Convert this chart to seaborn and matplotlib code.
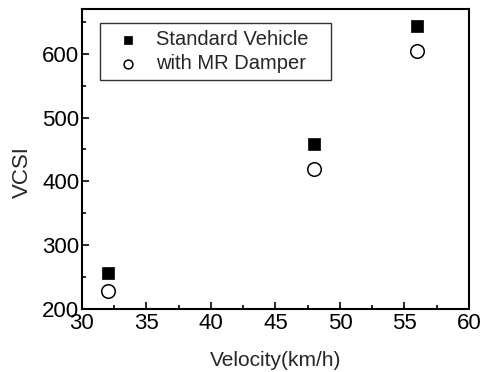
import matplotlib
matplotlib.use("Agg")
import matplotlib.pyplot as plt
import seaborn as sns
import pandas as pd
from matplotlib.ticker import MultipleLocator

velocity = [32, 48, 56]
standard_vcsi = [257, 459, 644]
mr_damper_vcsi = [229, 420, 604]
series_names = ["Standard Vehicle", "with MR Damper"]

sns.set_style("ticks")
plt.rcParams['font.family'] = ['Liberation Sans', 'DejaVu Sans']

df_std = pd.DataFrame({"Velocity": velocity, "VCSI": standard_vcsi})
df_mr = pd.DataFrame({"Velocity": velocity, "VCSI": mr_damper_vcsi})

fig = plt.figure(figsize=(4.88, 3.72), dpi=100)
ax = fig.add_axes([0.168, 0.169, 0.793, 0.807])

sns.scatterplot(data=df_std, x="Velocity", y="VCSI", marker="s", s=70,
                color="black", edgecolor="black", linewidth=0.5,
                label=series_names[0], ax=ax)
sns.scatterplot(data=df_mr, x="Velocity", y="VCSI", marker="o", s=95,
                facecolor="white", edgecolor="black", linewidth=1.1,
                label=series_names[1], ax=ax)

ax.set_xlim(30, 60)
ax.set_ylim(200, 670)
ax.xaxis.set_major_locator(MultipleLocator(5))
ax.xaxis.set_minor_locator(MultipleLocator(2.5))
ax.yaxis.set_major_locator(MultipleLocator(100))
ax.yaxis.set_minor_locator(MultipleLocator(50))
ax.tick_params(which="both", direction="in", colors="black", labelsize=16, width=1.2)
ax.tick_params(which="major", length=5)
ax.tick_params(which="minor", length=3)
ax.tick_params(axis="x", pad=3)
ax.tick_params(axis="y", pad=2)
for sp in ax.spines.values():
    sp.set_linewidth(1.5)
    sp.set_color("black")
    sp.set_visible(True)

ax.set_xlabel("Velocity(km/h)", fontsize=15, labelpad=12)
ax.set_ylabel("VCSI", fontsize=16)
ax.yaxis.set_label_coords(-0.127, 0.455)

leg = ax.legend(loc="upper left", bbox_to_anchor=(0.047, 0.62, 0.597, 0.333),
                mode="expand", borderaxespad=0, fontsize=14.5,
                markerscale=0.65, frameon=True, fancybox=False, edgecolor="black",
                handletextpad=0.35, borderpad=0.34, labelspacing=0.25, handlelength=2.1)
leg.get_frame().set_linewidth(1.0)

fig.savefig("out.png", dpi=100)
